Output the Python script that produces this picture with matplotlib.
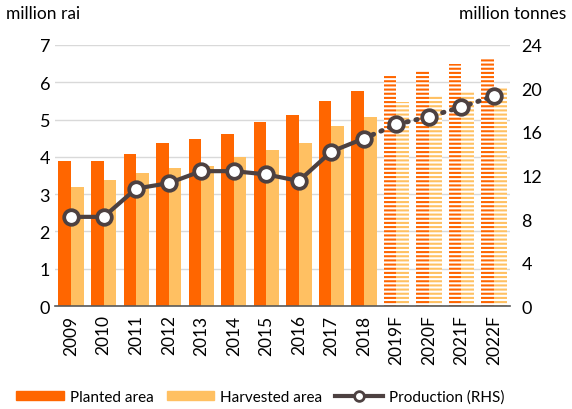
import numpy as np
import matplotlib.pyplot as plt
from matplotlib.patches import Patch
from matplotlib.lines import Line2D

plt.rcParams['font.family'] = ['Lato', 'DejaVu Sans']
plt.rcParams['hatch.linewidth'] = 1.5

years = ['2009', '2010', '2011', '2012', '2013', '2014', '2015', '2016',
         '2017', '2018', '2019F', '2020F', '2021F', '2022F']
planted = [3.89, 3.90, 4.07, 4.37, 4.48, 4.60, 4.93, 5.12, 5.50, 5.76,
           6.20, 6.30, 6.49, 6.62]
harvested = [3.19, 3.38, 3.56, 3.70, 3.76, 3.99, 4.18, 4.37, 4.83, 5.07,
             5.47, 5.66, 5.77, 5.88]
production = [8.2, 8.2, 10.8, 11.3, 12.4, 12.4, 12.1, 11.5, 14.2, 15.4,
              16.7, 17.4, 18.3, 19.3]
n_actual = 10  # first forecast index

c_plant = '#FF6600'
c_harv = '#FFC062'
c_line = '#4D4141'

x = np.arange(len(years))
w = 0.39

fig = plt.figure(figsize=(5.72, 4.10), dpi=100)
ax = fig.add_axes([0.096, 0.251, 0.796, 0.637])

for i in x:
    if i < n_actual:
        ax.bar(i - w / 2, planted[i], w, color=c_plant, zorder=2)
        ax.bar(i + w / 2, harvested[i], w, color=c_harv, zorder=2)
    else:
        # forecast bars are striped
        ax.bar(i - w / 2, planted[i], w, facecolor='white', edgecolor=c_plant,
               hatch='----', linewidth=0, zorder=2)
        ax.bar(i + w / 2, harvested[i], w, facecolor='white', edgecolor=c_harv,
               hatch='----', linewidth=0, zorder=2)

ax.set_xlim(-0.5, len(years) - 0.5)
ax.set_ylim(0, 7)
ax.set_yticks(range(0, 8))
ax.grid(axis='y', color='#D9D9D9', linewidth=1, zorder=0)
ax.set_axisbelow(True)
ax.set_xticks(x)
ax.set_xticklabels(years, rotation=90)
ax.tick_params(axis='both', length=0, labelsize=13)
ax.tick_params(axis='x', labelsize=12.5, pad=6)
for s in ['top', 'right', 'left']:
    ax.spines[s].set_visible(False)
ax.spines['bottom'].set_color('#595959')
ax.spines['bottom'].set_linewidth(1.2)

ax2 = ax.twinx()
ax2.set_ylim(0, 24)
ax2.set_yticks(range(0, 25, 4))
ax2.tick_params(axis='y', length=0, labelsize=13, pad=8)
for s in ax2.spines.values():
    s.set_visible(False)

ax2.plot(x[:n_actual], production[:n_actual], color=c_line, linewidth=3,
         zorder=3)
ax2.plot(x[n_actual - 1:], production[n_actual - 1:], color=c_line,
         linewidth=3.5, linestyle=(0, (0.3, 1.6)), dash_capstyle='round',
         zorder=3)
ax2.plot(x, production, linestyle='none', marker='o', markersize=10.5,
         markerfacecolor='white', markeredgecolor=c_line, markeredgewidth=2.7,
         zorder=4)

fig.text(0.01, 0.965, 'million rai', fontsize=12.5, va='center')
fig.text(0.99, 0.965, 'million tonnes', fontsize=12.5, va='center', ha='right')

handles = [Patch(color=c_plant), Patch(color=c_harv),
           Line2D([], [], color=c_line, linewidth=3, marker='o', markersize=7,
                  markerfacecolor='white', markeredgecolor=c_line,
                  markeredgewidth=2)]
labels = ['Planted area', 'Harvested area', 'Production (RHS)']
fig.legend(handles, labels, loc='center', bbox_to_anchor=(0.455, 0.03), ncol=3,
           frameon=False, fontsize=11, handlelength=3.1, handleheight=0.6,
           columnspacing=0.85, handletextpad=0.4)

fig.savefig('out.png', dpi=100)
